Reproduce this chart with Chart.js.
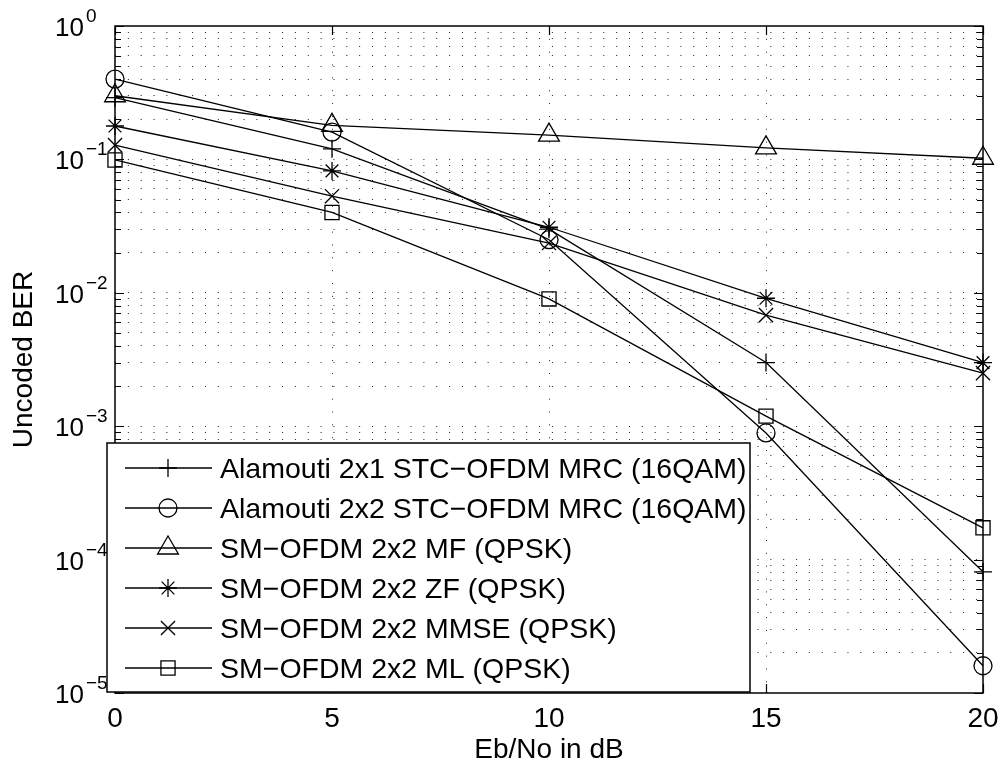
<!DOCTYPE html>
<html>
<head>
<meta charset="utf-8">
<script src="https://cdn.jsdelivr.net/npm/chart.js@4/dist/chart.umd.min.js"></script>
<style>
  html, body { margin: 0; padding: 0; background: #fff; }
  #wrap { width: 1002px; height: 764px; }
</style>
</head>
<body>
<div id="wrap"><canvas id="ber"></canvas></div>
<script>
const ebNo = [0, 5, 10, 15, 20];

const berAlamouti2x1 = [0.29, 0.12, 0.030, 0.0030, 8.1e-5];
const berAlamouti2x2 = [0.40, 0.16, 0.025, 8.9e-4, 1.6e-5];
const berSmMf = [0.30, 0.18, 0.152, 0.122, 0.102];
const berSmZf = [0.178, 0.082, 0.031, 0.0091, 0.0030];
const berSmMmse = [0.128, 0.053, 0.0236, 0.0068, 0.0025];
const berSmMl = [0.099, 0.040, 0.0090, 0.00119, 1.73e-4];

const seriesLabels = [
  "Alamouti 2x1 STC\u2212OFDM MRC (16QAM)",
  "Alamouti 2x2 STC\u2212OFDM MRC (16QAM)",
  "SM\u2212OFDM 2x2 MF (QPSK)",
  "SM\u2212OFDM 2x2 ZF (QPSK)",
  "SM\u2212OFDM 2x2 MMSE (QPSK)",
  "SM\u2212OFDM 2x2 ML (QPSK)",
];

const xTicks = [0, 5, 10, 15, 20];
const yExponents = [-5, -4, -3, -2, -1, 0];

const xTitle = "Eb/No in dB";
const yTitle = "Uncoded BER";

const FONT = '"Liberation Sans", Arial, Helvetica, sans-serif';

// decades plus 2..9 within each decade
const yGridValues = [];
yExponents.forEach((e) => {
  const base = Math.pow(10, e);
  yGridValues.push(base);
  if (e < 0) for (let m = 2; m <= 9; m++) yGridValues.push(m * base);
});

const markers = [
  { style: "cross", radius: 9 },
  { style: "circle", radius: 9 },
  { style: "triangle", radius: 12 },
  { style: "star", radius: 9 },
  { style: "crossRot", radius: 10 },
  { style: "rect", radius: 10 },
];

const allSeries = [berAlamouti2x1, berAlamouti2x2, berSmMf, berSmZf, berSmMmse, berSmMl];

const datasets = allSeries.map((values, i) => ({
  label: seriesLabels[i],
  data: values,
  borderColor: "#000",
  borderWidth: 1.3,
  backgroundColor: "rgba(0,0,0,0)",
  pointStyle: markers[i].style,
  pointRadius: markers[i].radius,
  pointHoverRadius: markers[i].radius,
  pointBorderColor: "#000",
  pointBackgroundColor: "rgba(0,0,0,0)",
  pointBorderWidth: 1.3,
  tension: 0,
  clip: false,
}));

const frame = {
  id: "frame",
  afterDraw(chart) {
    const { ctx, chartArea: a, scales } = chart;
    const x = scales.x;
    const y = scales.y;
    ctx.save();

    // axes box
    ctx.strokeStyle = "#000";
    ctx.lineWidth = 1.5;
    ctx.strokeRect(a.left, a.top, a.right - a.left, a.bottom - a.top);

    // tick marks, pointing inward
    ctx.lineWidth = 1.2;
    ctx.beginPath();
    xTicks.forEach((v) => {
      const px = Math.round(x.getPixelForValue(v)) + 0.5;
      ctx.moveTo(px, a.bottom);
      ctx.lineTo(px, a.bottom - 9);
      ctx.moveTo(px, a.top);
      ctx.lineTo(px, a.top + 9);
    });
    yGridValues.forEach((v) => {
      const py = Math.round(y.getPixelForValue(v)) + 0.5;
      const len = Number.isInteger(Math.log10(v)) ? 9 : 6;
      ctx.moveTo(a.left, py);
      ctx.lineTo(a.left + len, py);
      ctx.moveTo(a.right, py);
      ctx.lineTo(a.right - len, py);
    });
    ctx.stroke();

    // x tick labels
    ctx.fillStyle = "#000";
    ctx.font = "28px " + FONT;
    ctx.textAlign = "center";
    ctx.textBaseline = "alphabetic";
    xTicks.forEach((v) => {
      ctx.fillText(String(v), x.getPixelForValue(v), 727);
    });

    // y tick labels: 10 with superscript exponent
    yExponents.forEach((e) => {
      const py = y.getPixelForValue(Math.pow(10, e));
      ctx.font = "26px " + FONT;
      ctx.textAlign = "right";
      ctx.fillText("10", 84, py + 10);
      ctx.font = "19px " + FONT;
      ctx.textAlign = "left";
      ctx.fillText(e < 0 ? "\u2212" + Math.abs(e) : String(e), 86, py - 4);
    });

    // axis titles
    ctx.font = "28px " + FONT;
    ctx.textAlign = "center";
    ctx.fillText(xTitle, (a.left + a.right) / 2, 758);
    ctx.save();
    ctx.translate(32, (a.top + a.bottom) / 2);
    ctx.rotate(-Math.PI / 2);
    ctx.fillText(yTitle, 0, 0);
    ctx.restore();

    // legend box
    const lx = 107, ly = 443, lw = 643, lh = 249;
    ctx.fillStyle = "#fff";
    ctx.fillRect(lx, ly, lw, lh);
    ctx.strokeStyle = "#000";
    ctx.lineWidth = 1.5;
    ctx.strokeRect(lx, ly, lw, lh);

    seriesLabels.forEach((label, i) => {
      const ry = 468 + i * 40;
      ctx.lineWidth = 1.3;
      ctx.strokeStyle = "#000";
      ctx.beginPath();
      ctx.moveTo(125, ry);
      ctx.lineTo(212, ry);
      ctx.stroke();
      ctx.fillStyle = "rgba(0,0,0,0)";
      Chart.helpers.drawPoint(ctx, {
        pointStyle: markers[i].style,
        radius: markers[i].radius,
        borderWidth: 1.3,
      }, 168, ry);
      ctx.fillStyle = "#000";
      ctx.font = "28.5px " + FONT;
      ctx.textAlign = "left";
      ctx.fillText(label, 220, ry + 10);
    });

    ctx.restore();
  },
};

new Chart(document.getElementById("ber"), {
  type: "line",
  data: { labels: ebNo, datasets },
  options: {
    responsive: true,
    maintainAspectRatio: false,
    animation: false,
    layout: { padding: { left: 115, top: 26, right: 19, bottom: 71 } },
    plugins: { legend: { display: false }, tooltip: { enabled: false } },
    events: [],
    scales: {
      x: {
        type: "linear",
        min: 0,
        max: 20,
        afterBuildTicks: (s) => { s.ticks = [5, 10, 15].map((v) => ({ value: v })); },
        ticks: { display: false },
        grid: { color: "#222", lineWidth: 1, drawTicks: false },
        border: { display: false, dash: [1, 11.85] },
      },
      y: {
        type: "logarithmic",
        min: 1e-5,
        max: 1,
        afterBuildTicks: (s) => {
          s.ticks = yGridValues.filter((v) => v > 1e-5 && v < 1).map((v) => ({ value: v }));
        },
        ticks: { display: false },
        grid: { color: "#222", lineWidth: 1, drawTicks: false },
        border: { display: false, dash: [1, 11.85] },
      },
    },
  },
  plugins: [frame],
});
</script>
</body>
</html>
